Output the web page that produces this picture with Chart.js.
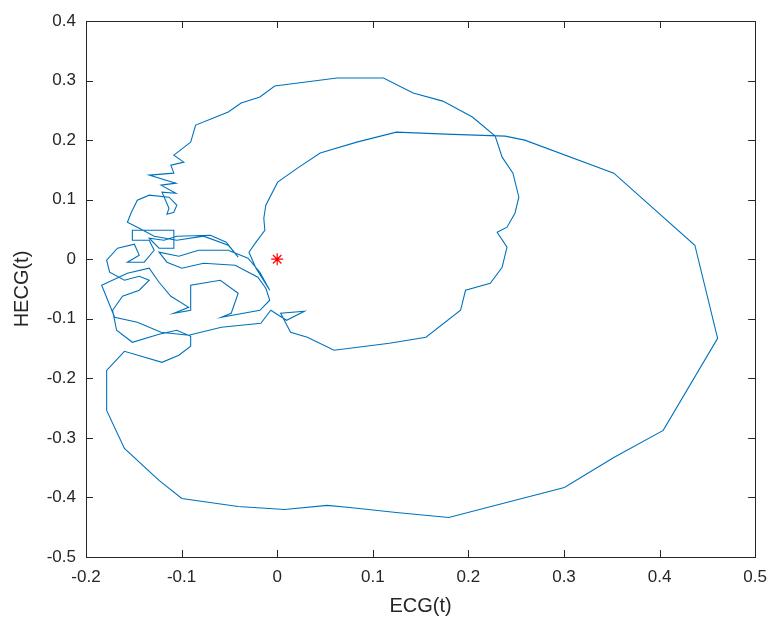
<!DOCTYPE html>
<html>
<head>
<meta charset="utf-8">
<script src="https://cdn.jsdelivr.net/npm/chart.js@4.4.1/dist/chart.umd.min.js"></script>
<style>
  body { margin: 0; background: #fff; }
  #wrap { width: 777px; height: 624px; }
</style>
</head>
<body>
<div id="wrap"><canvas id="phaseChart" width="777" height="624"></canvas></div>
<script>
// ECG(t) vs HECG(t)
const ecg = [
  -0.0905, -0.0853, -0.0667, -0.0512, -0.0377, -0.0181, -0.0026, 0.0626, 0.1112, 0.1422,
  0.1732, 0.2042, 0.2280, 0.2353, 0.2466, 0.2528, 0.2487, 0.2404, 0.2301, 0.2404,
  0.2353, 0.2229, 0.1970, 0.1918, 0.1556, 0.1174, 0.0595, 0.0315, 0.0140, 0.0036,
  0.0284, 0.0098,
  -0.0067, -0.0171, -0.0584, -0.0926, -0.1215, -0.1463, -0.1701, -0.1836, -0.1567, -0.1339,
  -0.1236, -0.1112, -0.0926, -0.1081, -0.0905, -0.0905, -0.0595, -0.0408, -0.0481, -0.0584,
  -0.0181, -0.0078, -0.0119, -0.0202, -0.0440, -0.0770, -0.0998, -0.1153, -0.1236, -0.1029,
  -0.0822, -0.0512, -0.0305, -0.0181, -0.0078,
  -0.0222, -0.0295, -0.0222, -0.0129, -0.0140, -0.0119, 0.0005, 0.0212, 0.0450, 0.0832,
  0.1246, 0.1763, 0.2384, 0.2590, 0.3521, 0.4369, 0.4607, 0.4038, 0.3521, 0.3004,
  0.1794, 0.1246, 0.0760, 0.0522, 0.0078, -0.0408, -0.0998, -0.1236, -0.1598, -0.1784,
  -0.1784, -0.1598,
  -0.1205, -0.1029, -0.0905, -0.0905, -0.1050, -0.1236, -0.1515, -0.1680, -0.1722, -0.1618,
  -0.1443, -0.1339, -0.1443, -0.1598, -0.1753, -0.1784, -0.1670, -0.1494, -0.1443, -0.1567,
  -0.1391, -0.1287, -0.1339, -0.1515, -0.1515, -0.1081, -0.1081, -0.1236, -0.1339, -0.1184,
  -0.1050, -0.0698, -0.0533, -0.0408, -0.0512, -0.0770, -0.1050, -0.1287, -0.1443, -0.1567,
  -0.1525, -0.1463, -0.1339, -0.1132, -0.1050, -0.1081, -0.1153, -0.1132, -0.1205, -0.1060,
  -0.1215, -0.1060, -0.1339, -0.1081, -0.1112, -0.0977, -0.1081, -0.0905
];
const hecg = [
  0.1966, 0.2252, 0.2370, 0.2471, 0.2622, 0.2723, 0.2908, 0.3042, 0.3042, 0.2790,
  0.2655, 0.2387, 0.2067, 0.1714, 0.1445, 0.1042, 0.0773, 0.0538, 0.0454, 0.0202,
  -0.0134, -0.0403, -0.0521, -0.0857, -0.1311, -0.1412, -0.1529, -0.1311, -0.1227, -0.0908,
  -0.0874, -0.1025,
  -0.0857, -0.1076, -0.1143, -0.1277, -0.1227, -0.1059, -0.0975, -0.0437, -0.0235, -0.0151,
  -0.0387, -0.0622, -0.0807, -0.0908, -0.0857, -0.0437, -0.0353, -0.0571, -0.0908, -0.0975,
  -0.0857, -0.0689, -0.0487, -0.0303, -0.0101, -0.0067, -0.0151, -0.0050, 0.0118, 0.0050,
  0.0151, 0.0151, 0.0017, -0.0218, -0.0521,
  -0.0151, 0.0118, 0.0286, 0.0487, 0.0689, 0.0908, 0.1294, 0.1529, 0.1782, 0.1966,
  0.2134, 0.2101, 0.2067, 0.2000, 0.1445, 0.0235, -0.1328, -0.2874, -0.3328, -0.3832,
  -0.4336, -0.4252, -0.4168, -0.4134, -0.4202, -0.4151, -0.4017, -0.3714, -0.3176, -0.2538,
  -0.1866, -0.1546,
  -0.1731, -0.1613, -0.1462, -0.1294, -0.1193, -0.1261, -0.1395, -0.1193, -0.0857, -0.0622,
  -0.0521, -0.0353, -0.0286, -0.0353, -0.0218, -0.0017, 0.0185, 0.0252, 0.0067, -0.0050,
  -0.0050, 0.0151, 0.0319, 0.0319, 0.0487, 0.0487, 0.0185, 0.0185, 0.0353, 0.0319,
  0.0387, 0.0403, 0.0286, 0.0034, 0.0235, 0.0387, 0.0319, 0.0387, 0.0521, 0.0622,
  0.0790, 0.0992, 0.1076, 0.1042, 0.0908, 0.0790, 0.0756, 0.0857, 0.1126, 0.1109,
  0.1244, 0.1277, 0.1412, 0.1445, 0.1580, 0.1630, 0.1748, 0.1966
];
const startPoint = [0, 0];

const xTicks = [-0.2, -0.1, 0, 0.1, 0.2, 0.3, 0.4, 0.5];
const xTickLabels = ["-0.2", "-0.1", "0", "0.1", "0.2", "0.3", "0.4", "0.5"];
const yTicks = [-0.5, -0.4, -0.3, -0.2, -0.1, 0, 0.1, 0.2, 0.3, 0.4];
const yTickLabels = ["-0.5", "-0.4", "-0.3", "-0.2", "-0.1", "0", "0.1", "0.2", "0.3", "0.4"];

const axisColor = "#262626";
const fontFamily = "'Liberation Sans', Arial, sans-serif";

// matlab style box with inward ticks on all four sides
const boxPlugin = {
  id: "box",
  afterDraw(chart) {
    const { ctx, chartArea: a, scales } = chart;
    const len = 7;
    ctx.save();
    ctx.strokeStyle = axisColor;
    ctx.lineWidth = 1;
    ctx.strokeRect(Math.round(a.left) + 0.5, Math.round(a.top) + 0.5,
      Math.round(a.right - a.left), Math.round(a.bottom - a.top));
    ctx.beginPath();
    scales.x.ticks.forEach(t => {
      const px = Math.round(scales.x.getPixelForValue(t.value)) + 0.5;
      ctx.moveTo(px, a.bottom); ctx.lineTo(px, a.bottom - len);
      ctx.moveTo(px, a.top); ctx.lineTo(px, a.top + len);
    });
    scales.y.ticks.forEach(t => {
      const py = Math.round(scales.y.getPixelForValue(t.value)) + 0.5;
      ctx.moveTo(a.left, py); ctx.lineTo(a.left + len, py);
      ctx.moveTo(a.right, py); ctx.lineTo(a.right - len, py);
    });
    ctx.stroke();
    ctx.restore();
  }
};

const chart = new Chart(document.getElementById("phaseChart"), {
  type: "scatter",
  data: {
    datasets: [
      {
        data: ecg.map((v, i) => ({ x: v, y: hecg[i] })),
        showLine: true,
        borderColor: "#0072BD",
        borderWidth: 1.1,
        pointRadius: 0,
        tension: 0,
      },
      {
        data: [{ x: startPoint[0], y: startPoint[1] }],
        pointStyle: "star",
        pointRadius: 6,
        borderColor: "#FF0000",
        backgroundColor: "#FF0000",
        borderWidth: 1.2,
      },
    ],
  },
  options: {
    responsive: false,
    animation: false,
    devicePixelRatio: 1,
    layout: { padding: { top: 21, right: 14, left: 0, bottom: 0 } },
    plugins: { legend: { display: false }, tooltip: { enabled: false } },
    scales: {
      x: {
        type: "linear",
        min: -0.2,
        max: 0.5,
        afterBuildTicks: s => { s.ticks = xTicks.map(v => ({ value: v })); },
        afterFit: s => { s.height = 67; },
        grid: { display: false, drawTicks: false },
        border: { display: false },
        ticks: {
          color: axisColor,
          padding: 10,
          font: { family: fontFamily, size: 17 },
          callback: (v, i) => xTickLabels[i],
        },
        title: {
          display: true,
          text: "ECG(t)",
          color: axisColor,
          font: { family: fontFamily, size: 20 },
          padding: { top: 0, bottom: 6 },
        },
      },
      y: {
        type: "linear",
        min: -0.5,
        max: 0.4,
        afterBuildTicks: s => { s.ticks = yTicks.map(v => ({ value: v })); },
        afterFit: s => { s.width = 86; },
        grid: { display: false, drawTicks: false },
        border: { display: false },
        ticks: {
          color: axisColor,
          padding: 10,
          font: { family: fontFamily, size: 17 },
          callback: (v, i) => yTickLabels[i],
        },
        title: {
          display: true,
          text: "HECG(t)",
          color: axisColor,
          font: { family: fontFamily, size: 20 },
          padding: { top: 10, bottom: 0 },
        },
      },
    },
  },
  plugins: [boxPlugin],
});
</script>
</body>
</html>
